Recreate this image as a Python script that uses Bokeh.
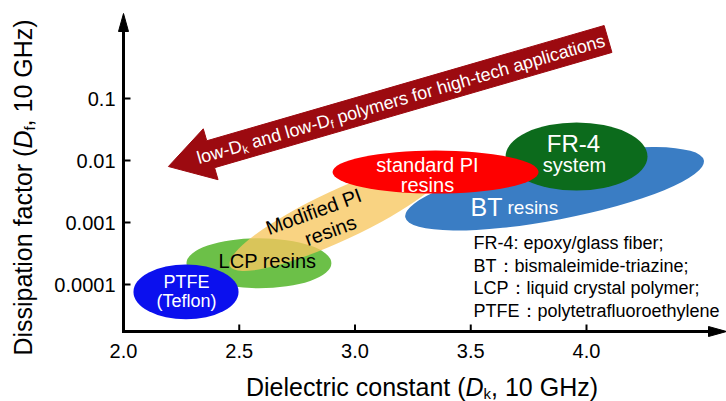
import math
import numpy as np
from bokeh.plotting import figure
from bokeh.models import Label
from bokeh.core.properties import value
from bokeh.embed import file_html
from bokeh.resources import INLINE

# ---------------- data ----------------
# material regions (drawing order: bottom -> top)
materials = ["LCP", "PTFE", "Modified PI", "BT", "FR-4", "Standard PI"]
dk_center = [2.585, 2.270, 2.930, 3.862, 3.957, 3.348]          # dielectric constant
df_center = [2.2e-4, 7.6e-5, 1.3e-3, 3.5e-3, 1.16e-2, 6.5e-3]  # dissipation factor
dk_span = [0.626, 0.454, 1.037, 1.313, 0.613, 0.890]            # extent in Dk
df_span_decades = [0.806, 0.887, 0.806, 1.0, 1.097, 0.694]      # extent in decades of Df
tilt_deg = [0, 0, 25, 10.8, 0, 0]

x_ticks = [2.0, 2.5, 3.0, 3.5, 4.0]
x_tick_labels = ["2.0", "2.5", "3.0", "3.5", "4.0"]
y_ticks_df = [1e-4, 1e-3, 1e-2, 1e-1]
y_tick_labels = ["0.0001", "0.001", "0.01", "0.1"]

# trend arrow (tail -> tip), in (Dk, Df)
arrow_dk = [4.093, 2.194]
arrow_df = [0.912, 0.0080]

legend_lines = ["FR-4: epoxy/glass fiber;",
                "BT\uff1abismaleimide-triazine;",
                "LCP\uff1aliquid crystal polymer;",
                "PTFE\uff1apolytetrafluoroethylene"]

# ---------------- styles / layout ----------------
fill_colors = ["#6cc048", "#0b10ee", "#f7c75f", "#3a7dc4", "#0c6b1c", "#fe0000"]
fill_alphas = [1.0, 1.0, 0.78, 1.0, 1.0, 1.0]
ARROW_COLOR = "#9c0a10"
FONT = "Liberation Sans"
MID = 0.35   # distance (in em) from the alphabetic baseline to the "middle" anchor

W, H = 726, 401
OX, OY = 123, 331                 # px position of the axes origin
X_PX, Y_PX = 231.5, 62.0          # px per Dk unit, px per decade of Df
DK_AXIS = 2.0                     # Dk where the vertical axis stands
LOGDF_AXIS = -4.0 - (OY - 284) / Y_PX
DK_END = DK_AXIS + (W - OX) / X_PX
LOGDF_END = LOGDF_AXIS + (OY - 13) / Y_PX


def px_x(px):
    return DK_AXIS + (px - OX) / X_PX


def px_y(py):
    return LOGDF_AXIS + (OY - py) / Y_PX


def to_px(x, yl):
    return (OX + (x - DK_AXIS) * X_PX, OY - (yl - LOGDF_AXIS) * Y_PX)


AW = {' ': 278, '(': 333, ')': 333, ',': 278, '-': 333, '.': 278, '0': 556, '1': 556,
      'G': 778, 'H': 722, 'D': 722, 'a': 556, 'c': 500, 'd': 556, 'e': 556, 'f': 278,
      'g': 556, 'h': 556, 'i': 222, 'k': 500, 'l': 222, 'm': 833, 'n': 556, 'o': 556,
      'p': 556, 'r': 333, 's': 500, 't': 278, 'w': 722, 'y': 500, 'z': 500}


def tw(s, size):
    return sum(AW.get(ch, 556) for ch in s) / 1000.0 * size


p = figure(width=W, height=H, x_range=(px_x(0), px_x(W)), y_range=(px_y(H), px_y(0)),
           output_backend="svg", toolbar_location=None,
           x_axis_location=None, y_axis_location=None,
           min_border_left=0, min_border_right=0, min_border_top=0, min_border_bottom=0)
p.outline_line_color = None
p.grid.visible = False
p.background_fill_color = "white"
p.border_fill_color = "white"

# ---------------- material regions ----------------
p.ellipse(x=dk_center, y=[math.log10(v) for v in df_center], width=dk_span,
          height=df_span_decades, angle=[math.radians(a) for a in tilt_deg],
          fill_color=fill_colors, fill_alpha=fill_alphas, line_color=None)

# ---------------- axes ----------------
HEAD_L, HEAD_W = 18, 5
p.segment(x0=[px_x(OX - 1.5), DK_AXIS], y0=[LOGDF_AXIS, px_y(OY + 1.5)],
          x1=[DK_END - (HEAD_L - 2) / X_PX, DK_AXIS], y1=[LOGDF_AXIS, LOGDF_END - (HEAD_L - 2) / Y_PX],
          line_color="black", line_width=3)
p.patches(xs=[[DK_AXIS - HEAD_W / X_PX, DK_AXIS, DK_AXIS + HEAD_W / X_PX],
              [DK_END - HEAD_L / X_PX, DK_END, DK_END - HEAD_L / X_PX]],
          ys=[[LOGDF_END - HEAD_L / Y_PX, LOGDF_END, LOGDF_END - HEAD_L / Y_PX],
              [LOGDF_AXIS + HEAD_W / Y_PX, LOGDF_AXIS, LOGDF_AXIS - HEAD_W / Y_PX]],
          fill_color="black", line_color="black", line_width=1)

y_ticks = [math.log10(v) for v in y_ticks_df]
TICK = 7
p.segment(x0=x_ticks, y0=[LOGDF_AXIS] * len(x_ticks), x1=x_ticks,
          y1=[LOGDF_AXIS + TICK / Y_PX] * len(x_ticks), line_color="black", line_width=2)
p.segment(x0=[DK_AXIS] * len(y_ticks), y0=y_ticks, x1=[DK_AXIS + TICK / X_PX] * len(y_ticks),
          y1=y_ticks, line_color="black", line_width=2)
p.text(x=x_ticks, y=[LOGDF_AXIS] * len(x_ticks), text=x_tick_labels, text_align="center",
       text_baseline="middle", y_offset=19, text_font=value(FONT),
       text_font_size="20px", text_color="black")
p.text(x=[DK_AXIS] * len(y_ticks), y=y_ticks, text=y_tick_labels, text_align="right",
       text_baseline="middle", x_offset=-8, text_font=value(FONT),
       text_font_size="20px", text_color="black")

# ---------------- big trend arrow ----------------
tail = np.array(to_px(arrow_dk[0], math.log10(arrow_df[0])))
tip = np.array(to_px(arrow_dk[1], math.log10(arrow_df[1])))
u = (tip - tail) / np.linalg.norm(tip - tail)
nrm = np.array([-u[1], u[0]])
hw, hl, hh = 14.0, 44.0, 26.5
base = tip - hl * u
poly = [tail + hw * nrm, base + hw * nrm, base + hh * nrm, tip,
        base - hh * nrm, base - hw * nrm, tail - hw * nrm]
p.patch(x=[px_x(q[0]) for q in poly], y=[px_y(q[1]) for q in poly],
        fill_color=ARROW_COLOR, line_color=ARROW_COLOR, line_width=1)


def lab(xp, yp, text, size, color="black", align="center", baseline="middle",
        angle=0.0, style="normal"):
    p.add_layout(Label(x=px_x(xp), y=px_y(yp), text=text, text_font=FONT,
                       text_font_size=f"{size}px", text_color=color, text_align=align,
                       text_baseline=baseline, angle=angle, text_font_style=style))


def rich(start, v, pieces, angle, color="black"):
    """start = left end of the common baseline (px); v = writing direction (px, y down)."""
    v = np.array(v, dtype=float)
    d = np.array([-v[1], v[0]])       # 'downwards' relative to the text
    s = 0.0
    for text, size, drop, style in pieces:
        lead = len(text) - len(text.lstrip(" "))
        pt = np.array(start) + (s + tw(" " * lead, size)) * v + (drop - MID * size) * d
        lab(pt[0], pt[1], text.lstrip(" "), size, color=color, align="left",
            baseline="middle", angle=angle, style=style)
        s += tw(text, size)


# arrow text
v = -u
ang = math.atan2(-v[1], v[0])
arrow_pieces = [("low-D", 18, 0, "normal"), ("k", 11.5, 2.5, "normal"),
                (" and low-D", 18, 0, "normal"), ("f", 11.5, 2.5, "normal"),
                (" polymers for high-tech applications", 18, 0, "normal")]
start = tip + v * 30 + np.array([-v[1], v[0]]) * 6.5
rich(start, v, arrow_pieces, ang, color="white")

# axis titles
fs = 25
xt = [("Dielectric constant (", fs, 0, "normal"), ("D", fs, 0, "italic"),
      ("k", 15, 3, "normal"), (", 10 GHz)", fs, 0, "normal")]
total = sum(tw(t, s) for t, s, _, _ in xt)
rich((421.5 - total / 2, 395), (1, 0), xt, 0.0)
yt = [("Dissipation factor (", fs, 0, "normal"), ("D", fs, 0, "italic"),
      ("f", 15, 3, "normal"), (", 10 GHz)", fs, 0, "normal")]
total = sum(tw(t, s) for t, s, _, _ in yt)
rich((31.5, 187 + total / 2), (0, -1), yt, math.pi / 2)

# region labels
lab(186, 281, "PTFE", 18, color="white")
lab(186, 300, "(Teflon)", 18, color="white")
lab(267, 260, "LCP resins", 20)
lab(313, 211, "Modified PI", 20, angle=math.radians(20))
lab(330, 230, "resins", 20, angle=math.radians(20))
lab(427, 164, "standard PI", 20, color="white")
lab(427, 184, "resins", 20, color="white")
lab(573, 143, "FR-4", 24, color="white")
lab(574, 164, "system", 20, color="white")
lab(470, 206, "BT", 25, color="white", align="left")
lab(507, 207, "resins", 19, color="white", align="left")

# abbreviations key
for i, line in enumerate(legend_lines):
    lab(473, 249 + 22.5 * i - MID * 18, line, 18, align="left")

open("out.html", "w").write(file_html(p, INLINE))
